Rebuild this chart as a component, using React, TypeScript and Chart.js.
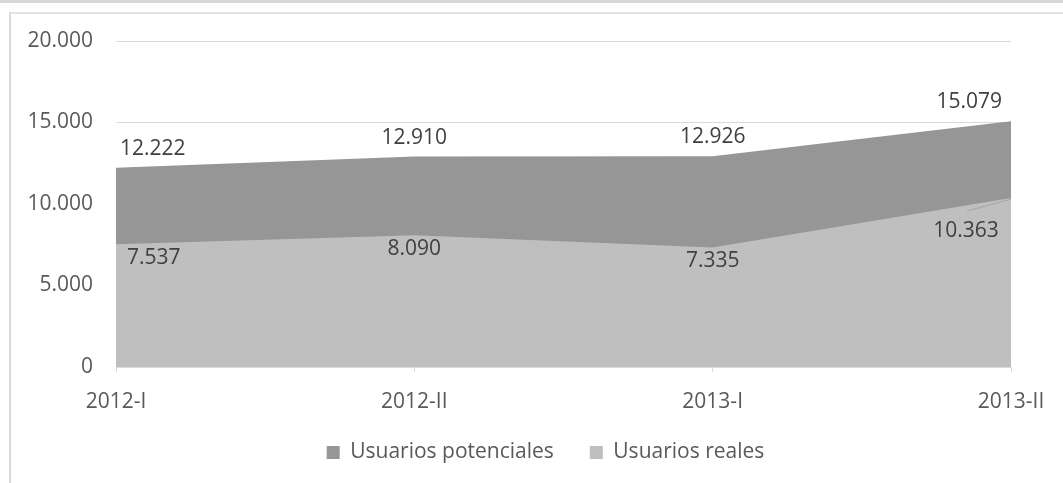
import { useEffect, useRef } from "react";
import { Chart, registerables } from "chart.js";

Chart.register(...registerables);

const categories = ["2012-I", "2012-II", "2013-I", "2013-II"];
const potenciales = [12222, 12910, 12926, 15079];
const reales = [7537, 8090, 7335, 10363];
const seriesNames = ["Usuarios potenciales", "Usuarios reales"];
const seriesColors = ["#969696", "#bfbfbf"];
const yMin = 0;
const yMax = 20000;
const yStep = 5000;

const FONT = "'Open Sans', sans-serif";
const FONT_SIZE = 21;

const fmt = (v: number) =>
  String(Math.round(v)).replace(/\B(?=(\d{3})+(?!\d))/g, ".");

const valueLabels = {
  id: "valueLabels",
  afterDatasetsDraw(chart: any) {
    const ctx = chart.ctx;
    ctx.save();
    ctx.font = `${FONT_SIZE}px ${FONT}`;
    ctx.textBaseline = "middle";
    chart.data.datasets.forEach((ds: any, di: number) => {
      const meta = chart.getDatasetMeta(di);
      const above = di === 0;
      const n = meta.data.length;
      meta.data.forEach((pt: any, i: number) => {
        const v = ds.data[i] as number;
        let x = pt.x;
        let y = pt.y;
        let align: CanvasTextAlign = "center";
        if (above) {
          y -= 19;
          if (i === 0) {
            align = "left";
            x += 4;
          } else if (i === n - 1) {
            align = "right";
            x -= 9;
          }
        } else {
          if (i === n - 1) {
            ctx.strokeStyle = "#a6a6a6";
            ctx.lineWidth = 1;
            ctx.beginPath();
            ctx.moveTo(pt.x, pt.y + 1);
            ctx.lineTo(pt.x - 44, pt.y + 13);
            ctx.stroke();
            x -= 45;
            y += 33;
          } else {
            y += 14;
            if (i === 0) {
              align = "left";
              x += 11;
            }
          }
        }
        ctx.fillStyle = "#404040";
        ctx.textAlign = align;
        ctx.fillText(fmt(v), x, y);
      });
    });
    ctx.restore();
  },
};

const legendShift = {
  id: "legendShift",
  afterLayout(chart: any) {
    const lg = chart.legend;
    if (lg) {
      lg.left += 40;
      lg.right += 40;
      lg.top -= 6;
      lg.bottom -= 6;
    }
  },
};

export default function App() {
  const ref = useRef<HTMLCanvasElement | null>(null);

  useEffect(() => {
    if (!ref.current) return;
    const font = { family: FONT, size: FONT_SIZE };
    const chart = new Chart(ref.current, {
      type: "line",
      data: {
        labels: categories,
        datasets: [
          {
            label: seriesNames[0],
            data: potenciales,
            backgroundColor: seriesColors[0],
            borderColor: "rgba(0,0,0,0)",
            borderWidth: 1,
            fill: "origin",
            pointRadius: 0,
            tension: 0,
            order: 1,
          },
          {
            label: seriesNames[1],
            data: reales,
            backgroundColor: seriesColors[1],
            borderColor: "rgba(0,0,0,0)",
            borderWidth: 1,
            fill: "origin",
            pointRadius: 0,
            tension: 0,
            order: 0,
          },
        ],
      },
      options: {
        animation: false,
        responsive: false,
        devicePixelRatio: 1,
        layout: { padding: { top: 41, right: 52, left: 0, bottom: 4 } },
        plugins: {
          legend: {
            position: "bottom",
            labels: {
              boxWidth: 13,
              boxHeight: 13,
              font,
              color: "#595959",
              padding: 36,
              sort: (a: any, b: any) => a.datasetIndex - b.datasetIndex,
            },
          },
          tooltip: { enabled: false },
        },
        scales: {
          x: {
            grid: {
              display: true,
              drawOnChartArea: false,
              drawTicks: true,
              tickLength: 5,
              color: "#d9d9d9",
            },
            border: { display: true, color: "#d9d9d9", width: 1 },
            ticks: {
              font,
              color: "#595959",
              padding: 17,
              maxRotation: 0,
              autoSkip: false,
            },
            afterFit: (s: any) => {
              s.height = 45;
            },
          },
          y: {
            min: yMin,
            max: yMax,
            ticks: {
              stepSize: yStep,
              callback: (v: any) => fmt(Number(v)),
              padding: 23,
              font,
              color: "#595959",
            },
            grid: { color: "#d9d9d9", drawTicks: false },
            border: { display: false },
            afterFit: (s: any) => {
              s.width = 116;
            },
          },
        },
      },
      plugins: [valueLabels, legendShift],
    });
    return () => chart.destroy();
  }, []);

  return (
    <div
      style={{
        position: "fixed",
        left: 0,
        top: 0,
        width: 1063,
        height: 483,
        overflow: "hidden",
        background: "#fff",
      }}
    >
      <div
        style={{
          position: "absolute",
          left: 0,
          top: 0,
          width: 1063,
          height: 3,
          background: "#d9d9d9",
        }}
      />
      <div
        style={{
          position: "absolute",
          left: 9,
          top: 12,
          width: 1200,
          height: 600,
          borderLeft: "2px solid #d9d9d9",
          borderTop: "2px solid #e3e3e3",
        }}
      />
      <canvas
        ref={ref}
        width={1063}
        height={483}
        style={{ position: "absolute", left: 0, top: 0 }}
      />
    </div>
  );
}
